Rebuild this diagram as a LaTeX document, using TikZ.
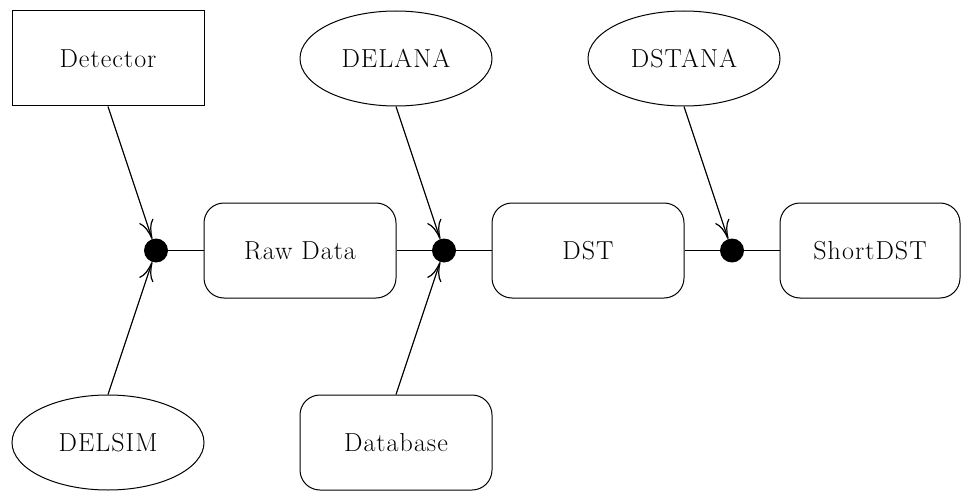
\documentclass[tikz,border=0pt]{standalone}
\usepackage{fontspec}
\setmainfont{Latin Modern Roman}[LetterSpace=4]
\usetikzlibrary{shapes.geometric,arrows.meta}
\begin{document}
\begin{tikzpicture}[x=1pt,y=1pt,
  every node/.style={font=\fontsize{26}{30}\selectfont},
  sqbox/.style={draw,line width=1pt,minimum width=192pt,minimum height=95pt,inner sep=0pt},
  rbox/.style={draw,line width=1pt,rounded corners=20pt,minimum width=192pt,minimum height=95pt,inner sep=0pt},
  ell/.style={draw,ellipse,line width=1pt,minimum width=192pt,minimum height=95pt,inner sep=0pt},
  dot/.style={circle,fill=black,minimum size=24pt,inner sep=0pt},
  link/.style={line width=1.3pt},
  feed/.style={line width=1.2pt,-{To[length=19pt,width=15pt]}}]
\useasboundingbox (0,0) rectangle (961,491);
\node[sqbox] (det) at (108,432.5) {Detector};
\node[ell] (delana) at (396,432.5) {DELANA};
\node[ell] (dstana) at (684,432.5) {DSTANA};
\node[rbox] (raw) at (300,240.5) {Raw Data};
\node[rbox] (dst) at (588,240.5) {DST};
\node[rbox,minimum width=180pt] (short) at (870,240.5) {ShortDST};
\node[ell] (delsim) at (108,48.5) {DELSIM};
\node[rbox] (db) at (396,48.5) {Database};
\node[dot] (d1) at (156,240.5) {};
\node[dot] (d2) at (444,240.5) {};
\node[dot] (d3) at (732,240.5) {};
\draw[link] (d1) -- (raw.west);
\draw[link] (raw.east) -- (d2);
\draw[link] (d2) -- (dst.west);
\draw[link] (dst.east) -- (d3);
\draw[link] (d3) -- (short.west);
\draw[feed] (det.south) -- (d1);
\draw[feed] (delsim.north) -- (d1);
\draw[feed] (delana.south) -- (d2);
\draw[feed] (db.north) -- (d2);
\draw[feed] (dstana.south) -- (d3);
\end{tikzpicture}
\end{document}
